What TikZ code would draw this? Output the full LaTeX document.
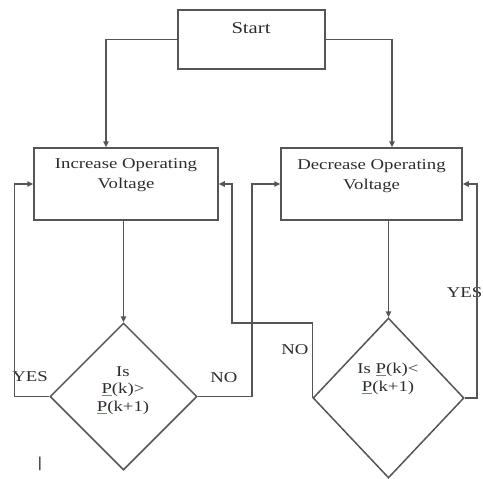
\documentclass[tikz,border=0pt]{standalone}
\usepackage{fontspec}
\setmainfont{Liberation Serif}[FakeStretch=1.25]
\usetikzlibrary{shapes.geometric,arrows.meta,calc}

\definecolor{linegray}{RGB}{85,85,85}
\definecolor{textgray}{RGB}{45,45,45}
\definecolor{markgreen}{RGB}{110,140,110}
\newcommand\ulp[1]{{\color{markgreen}\underline{\color{textgray}#1}}}

\begin{document}
\begin{tikzpicture}[x=1pt,y=-1pt,
  line/.style={draw=linegray, line width=1.5pt},
  arr/.style={line, -{Triangle[length=6pt,width=5.5pt]}},
  box/.style={line, rectangle, inner sep=0pt},
  decision/.style={line, diamond, inner sep=0pt},
  txt/.style={text=textgray, align=center, inner sep=0pt,
              font=\fontsize{15}{20}\selectfont},
  dtxt/.style={txt, font=\fontsize{15}{17.5}\selectfont},
]
\useasboundingbox (0,0) rectangle (483,479);

% process boxes
\node[box, minimum width=147, minimum height=59] (start) at (251.5,39.5) {};
\node[txt, font=\fontsize{16.5}{20}\selectfont] (starttext) at (251,28) {Start};
\node[box, minimum width=184, minimum height=72] (inc) at (126,184) {};
\node[txt] (inctext) at (126,175) {Increase Operating\\Voltage};
\node[box, minimum width=181, minimum height=72] (dec) at (371.5,184) {};
\node[txt] (dectext) at (371.5,176) {Decrease Operating\\Voltage};

% decisions
\node[decision, minimum width=147, minimum height=147] (q1) at (123.5,396.5) {};
\node[dtxt] (q1text) at (123,390.5) {Is\\\ulp{P}(k)>\\\ulp{P}(k+1)};
\node[decision, minimum width=151, minimum height=160] (q2) at (388.5,398) {};
\node[dtxt] (q2text) at (388,379) {Is \ulp{P}(k)<\\\ulp{P}(k+1)};

% branch labels
\node[txt] (yes1) at (30,377) {YES};
\node[txt] (no1) at (224,378) {NO};
\node[txt] (no2) at (295,350) {NO};
\node[txt] (yes2) at (464.5,293) {YES};
\node[txt, font=\fontsize{15}{20}\bfseries] (mark) at (40,464) {\textbar};

% connectors
\draw[arr] (start.west) -| ([xshift=-20]inc.north);
\draw[arr] (start.east) -| ([xshift=20.5]dec.north);
\draw[arr] (q1.north |- inc.south) -- (q1.north);
\draw[arr] (q2.north |- dec.south) -- (q2.north);
\draw[arr] (q1.west) -- ++(-35,0) |- (inc.west);
\draw[arr] (q1.east) -- ++(54,0) |- (dec.west);
\draw[arr] (q2.west) -- ++(0,-75) -| ([xshift=13]inc.east) -- (inc.east);
\draw[arr] (q2.east) -- ++(12,0) |- (dec.east);
\end{tikzpicture}
\end{document}
